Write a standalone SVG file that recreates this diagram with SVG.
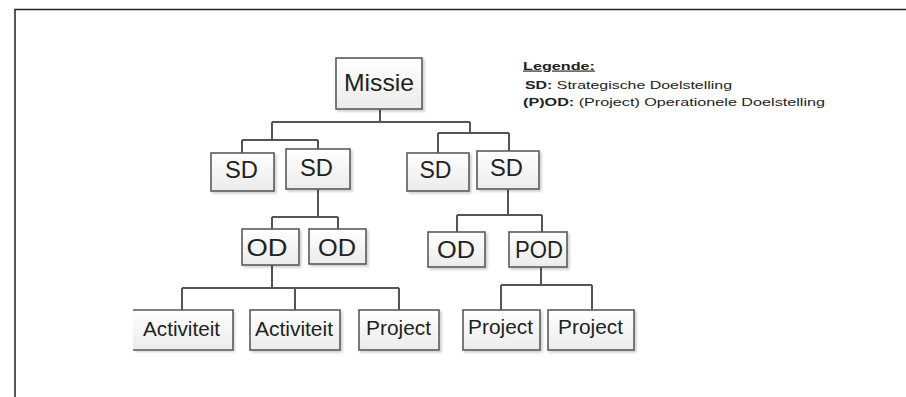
<svg xmlns="http://www.w3.org/2000/svg" width="906" height="397" viewBox="0 0 906 397">
<defs>
<linearGradient id="g" x1="0" y1="0" x2="0" y2="1">
<stop offset="0" stop-color="#ffffff"/>
<stop offset="1" stop-color="#ebebeb"/>
</linearGradient>
<filter id="sh" x="-20%" y="-20%" width="140%" height="150%">
<feGaussianBlur in="SourceAlpha" stdDeviation="1.2"/>
<feOffset dx="1.5" dy="1.5" result="b"/>
<feComponentTransfer><feFuncA type="linear" slope="0.18"/></feComponentTransfer>
<feMerge><feMergeNode/><feMergeNode in="SourceGraphic"/></feMerge>
</filter>
</defs>
<style>
.box{fill:url(#g);stroke:#5a5a5a;stroke-width:1.6;filter:url(#sh)}
.lbl{font-family:"Liberation Sans",Arial,sans-serif;fill:#222;text-anchor:middle}
.big{font-size:24px}
.md{font-size:23px}
.sm{font-size:20px}
.con{fill:none;stroke:#555;stroke-width:2}
.leg{font-family:"Liberation Sans",Arial,sans-serif;font-size:11.5px;fill:#222}
</style>
<rect width="906" height="397" fill="#ffffff"/>
<path d="M15 397 V9.5 H906" fill="none" stroke="#222" stroke-width="1.5"/>

<g id="connectors" class="con">
<path d="M380 109 V122 M272 122 H470 M272 122 V140 M242 140 H318 M242 140 V153 M318 140 V149"/>
<path d="M470 122 V133 M438 133 H509 M438 133 V153 M509 133 V151"/>
<path d="M318 189 V217 M272 217 H338 M272 217 V229 M338 217 V229"/>
<path d="M272 265 V288 M182 288 H399 M182 288 V310 M295 288 V310 M399 288 V310"/>
<path d="M508 189 V215 M457 215 H542 M457 215 V232 M542 215 V232"/>
<path d="M541 267 V285 M501 285 H592 M501 285 V310 M592 285 V310"/>
</g>

<g id="missie"><rect class="box" x="336" y="58" width="86" height="51"/><text class="lbl big" x="379" y="91" textLength="70" lengthAdjust="spacingAndGlyphs">Missie</text></g>
<g id="sd1"><rect class="box" x="211" y="153" width="63" height="38"/><text class="lbl md" x="241.5" y="178" textLength="33" lengthAdjust="spacingAndGlyphs">SD</text></g>
<g id="sd2"><rect class="box" x="286" y="149" width="64" height="40"/><text class="lbl md" x="316.5" y="176" textLength="33" lengthAdjust="spacingAndGlyphs">SD</text></g>
<g id="sd3"><rect class="box" x="407" y="153" width="62" height="38"/><text class="lbl md" x="435.5" y="178" textLength="32" lengthAdjust="spacingAndGlyphs">SD</text></g>
<g id="sd4"><rect class="box" x="477" y="151" width="62" height="38"/><text class="lbl md" x="506.5" y="176" textLength="33" lengthAdjust="spacingAndGlyphs">SD</text></g>
<g id="od1"><rect class="box" x="242" y="229" width="57" height="36"/><text class="lbl md" x="267" y="256" textLength="41" lengthAdjust="spacingAndGlyphs">OD</text></g>
<g id="od2"><rect class="box" x="309" y="229" width="57" height="35"/><text class="lbl md" x="337" y="256" textLength="38" lengthAdjust="spacingAndGlyphs">OD</text></g>
<g id="od3"><rect class="box" x="428" y="232" width="57" height="35"/><text class="lbl md" x="456" y="258" textLength="38" lengthAdjust="spacingAndGlyphs">OD</text></g>
<g id="pod"><rect class="box" x="509" y="232" width="58" height="35"/><text class="lbl md" x="539" y="258" textLength="48" lengthAdjust="spacingAndGlyphs">POD</text></g>
<g id="act1"><rect x="133" y="310" width="100" height="40" fill="url(#g)" filter="url(#sh)"/><path d="M133 310 H233 V350 H133" fill="none" stroke="#5a5a5a" stroke-width="1.6"/><text class="lbl sm" x="181.5" y="336" textLength="77" lengthAdjust="spacingAndGlyphs">Activiteit</text></g>
<g id="act2"><rect class="box" x="250" y="310" width="90" height="40"/><text class="lbl sm" x="294" y="336" textLength="78" lengthAdjust="spacingAndGlyphs">Activiteit</text></g>
<g id="proj1"><rect class="box" x="359" y="310" width="80" height="40"/><text class="lbl sm" x="398.5" y="335" textLength="65" lengthAdjust="spacingAndGlyphs">Project</text></g>
<g id="projA"><rect class="box" x="463" y="310" width="77" height="40"/><text class="lbl sm" x="500.5" y="334" textLength="65" lengthAdjust="spacingAndGlyphs">Project</text></g>
<g id="projB"><rect class="box" x="548" y="310" width="86" height="40"/><text class="lbl sm" x="590.5" y="334" textLength="65" lengthAdjust="spacingAndGlyphs">Project</text></g>

<g id="legend">
<text class="leg" x="523" y="69.5" font-weight="bold" text-decoration="underline" font-size="12" textLength="72" lengthAdjust="spacingAndGlyphs">Legende:</text>
<text class="leg" x="525" y="89" textLength="207" lengthAdjust="spacingAndGlyphs"><tspan font-weight="bold">SD:</tspan> Strategische Doelstelling</text>
<text class="leg" x="523" y="106" textLength="302" lengthAdjust="spacingAndGlyphs"><tspan font-weight="bold">(P)OD:</tspan> (Project) Operationele Doelstelling</text>
</g>
</svg>
